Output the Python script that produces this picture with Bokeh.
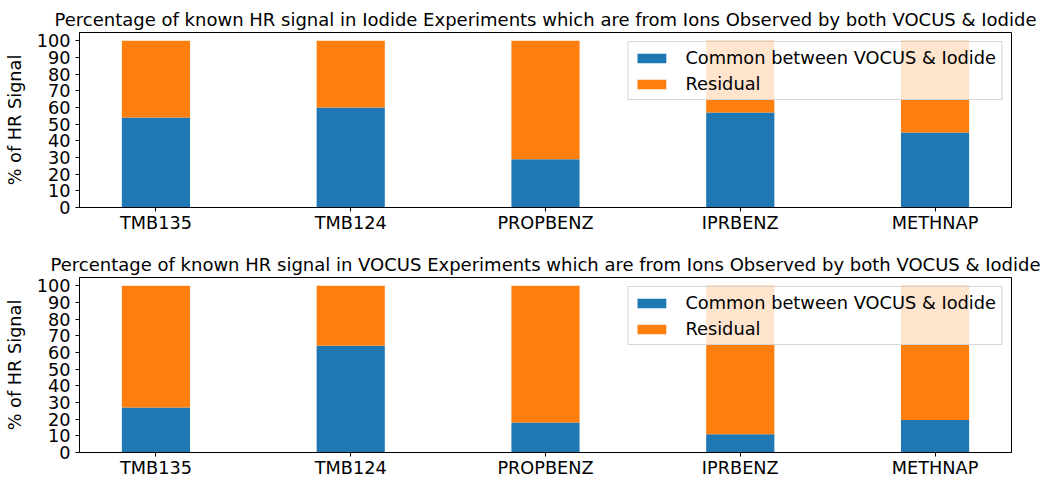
from bokeh.plotting import figure
from bokeh.models import ColumnDataSource, Range1d, FixedTicker, SingleIntervalTicker, Title
from bokeh.layouts import column
from bokeh.embed import file_html
from bokeh.resources import INLINE

categories = ["TMB135", "TMB124", "PROPBENZ", "IPRBENZ", "METHNAP"]
iodide_common = [54, 60, 29, 57, 45]
vocus_common = [27, 64, 18, 11, 19.5]
titles = [
    "Percentage of known HR signal in Iodide Experiments which are from Ions Observed by both VOCUS & Iodide",
    "Percentage of known HR signal in VOCUS Experiments which are from Ions Observed by both VOCUS & Iodide",
]
series_names = ["Common between VOCUS & Iodide", "Residual"]
colors = ["#1f77b4", "#ff7f0e"]

FONT = "DejaVu Sans"
FS = "17.7px"


def make_fig(common, title, height, mb_top, mb_bottom):
    residual = [100 - c for c in common]
    src = ColumnDataSource(dict(x=list(range(len(categories))), common=common, residual=residual))
    p = figure(width=1040, height=height, output_backend="svg", toolbar_location=None,
               x_range=Range1d(-0.3925, len(categories) - 1 + 0.3925), y_range=Range1d(0, 105),
               min_border_left=79, min_border_right=29, min_border_top=mb_top, min_border_bottom=mb_bottom)
    p.title = Title(text=title, align="center", text_font=FONT, text_font_size="18px",
                    text_font_style="normal", text_color="#000000", standoff=6, offset=0)
    p.vbar_stack(["common", "residual"], x="x", width=0.35, color=colors, source=src,
                 legend_label=series_names, line_width=0)
    p.xgrid.visible = False
    p.ygrid.visible = False
    p.outline_line_color = "#000000"
    p.outline_line_width = 1
    p.outline_line_alpha = 1

    p.xaxis.ticker = FixedTicker(ticks=list(range(len(categories))))
    p.xaxis.major_label_overrides = {i: c for i, c in enumerate(categories)}
    p.yaxis.ticker = SingleIntervalTicker(interval=10, num_minor_ticks=0)
    p.yaxis.axis_label = "% of HR Signal"
    for ax in (p.xaxis[0], p.yaxis[0]):
        ax.axis_line_color = "#000000"
        ax.major_tick_line_color = "#000000"
        ax.minor_tick_line_color = None
        ax.major_tick_in = 0
        ax.major_tick_out = 4
        ax.major_label_text_font = FONT
        ax.major_label_text_font_size = FS
        ax.major_label_text_color = "#000000"
        ax.axis_label_text_font = FONT
        ax.axis_label_text_font_size = FS
        ax.axis_label_text_font_style = "normal"
        ax.axis_label_text_color = "#000000"
    p.xaxis.major_label_standoff = 1
    p.yaxis.major_label_standoff = 5
    p.yaxis.axis_label_standoff = 9

    lg = p.legend[0]
    lg.location = "top_right"
    lg.margin = 9
    lg.padding = 5
    lg.spacing = 5
    lg.glyph_width = 36
    lg.glyph_height = 12
    lg.label_standoff = 16
    lg.label_text_font = FONT
    lg.label_text_font_size = "17.8px"
    lg.label_text_color = "#000000"
    lg.background_fill_alpha = 0.8
    lg.border_line_color = "#cccccc"
    lg.border_line_alpha = 0.8
    return p


p1 = make_fig(iodide_common, titles[0], 240, 32, 33)
p2 = make_fig(vocus_common, titles[1], 240, 37, 27)
p = column(p1, p2)

open("out.html", "w").write(file_html(p, INLINE))
